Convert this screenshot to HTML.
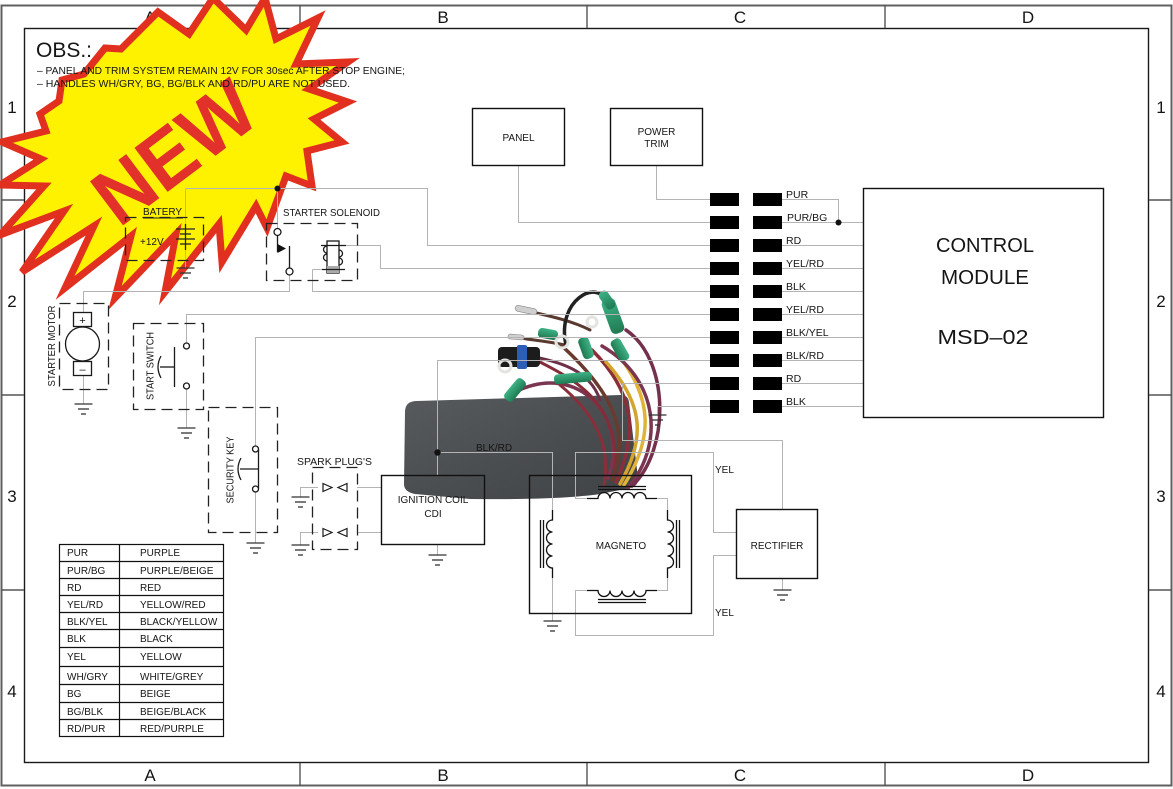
<!DOCTYPE html>
<html>
<head>
<meta charset="utf-8">
<style>
  html,body{margin:0;padding:0;background:#fff;}
  body{width:1173px;height:789px;overflow:hidden;}
  svg{display:block;}
  text{font-family:"Liberation Sans", sans-serif;fill:#151515;}
</style>
</head>
<body>
<svg width="1173" height="789" viewBox="0 0 1173 789" xmlns="http://www.w3.org/2000/svg">
  <defs>
    <g id="gnd" stroke="#333" stroke-width="1.3" fill="none">
      <line x1="-9" y1="0" x2="9" y2="0"/>
      <line x1="-5.5" y1="5" x2="5.5" y2="5"/>
      <line x1="-2.5" y1="10" x2="2.5" y2="10"/>
    </g>
    <linearGradient id="body" x1="0" y1="0" x2="1" y2="1">
      <stop offset="0" stop-color="#585b5e"/>
      <stop offset="0.5" stop-color="#4b4e51"/>
      <stop offset="1" stop-color="#404346"/>
    </linearGradient>
    <linearGradient id="grn" x1="0" y1="0" x2="0" y2="1">
      <stop offset="0" stop-color="#3fb386"/>
      <stop offset="1" stop-color="#1f7a52"/>
    </linearGradient>
  </defs>

  <rect x="0" y="0" width="1173" height="789" fill="#fff"/>

  <!-- Frame -->
  <rect x="1.5" y="5.5" width="1170" height="780" fill="none" stroke="#606060" stroke-width="2"/>
  <rect x="24.5" y="28.5" width="1124" height="734" fill="none" stroke="#1a1a1a" stroke-width="1.4"/>
  <g stroke="#555" stroke-width="1.4">
    <line x1="300" y1="5" x2="300" y2="28"/>
    <line x1="587" y1="5" x2="587" y2="28"/>
    <line x1="885" y1="5" x2="885" y2="28"/>
    <line x1="300" y1="763" x2="300" y2="786"/>
    <line x1="587" y1="763" x2="587" y2="786"/>
    <line x1="885" y1="763" x2="885" y2="786"/>
    <line x1="1" y1="200" x2="24" y2="200"/>
    <line x1="1" y1="395" x2="24" y2="395"/>
    <line x1="1" y1="590" x2="24" y2="590"/>
    <line x1="1149" y1="200" x2="1172" y2="200"/>
    <line x1="1149" y1="395" x2="1172" y2="395"/>
    <line x1="1149" y1="590" x2="1172" y2="590"/>
  </g>
  <g font-size="17" text-anchor="middle" fill="#222">
    <text x="150" y="23">A</text>
    <text x="443" y="23">B</text>
    <text x="740" y="23">C</text>
    <text x="1028" y="23">D</text>
    <text x="150" y="781">A</text>
    <text x="443" y="781">B</text>
    <text x="740" y="781">C</text>
    <text x="1028" y="781">D</text>
    <text x="1161" y="113">1</text>
    <text x="1161" y="307">2</text>
    <text x="1161" y="502">3</text>
    <text x="1161" y="697">4</text>
  </g>

  <!-- Starburst NEW -->
  <polygon fill="#fff200" stroke="#e1301f" stroke-width="7" stroke-linejoin="miter" stroke-miterlimit="5"
    points="213,-2 246,30 265,-2 276,39 318,18 296,64 348,62 309,89 348,102 314,119 342,142 307,151 312,186 286,176 267,228 256,206 222,262 219,224 165,292 176,234 115,298 131,236 65,288 94,226 22,272 64,211 0,235 44,186 0,185 41,159 2,142 46,131 40,114 59,101 62,80 84,74 105,48 121,49 158,12 189,34"/>
  <text x="174" y="180" font-size="80" font-weight="bold" text-anchor="middle" textLength="180" lengthAdjust="spacingAndGlyphs" style="fill:#e2302a" transform="rotate(-37 174 152)">NEW</text>

  <g font-size="17" text-anchor="middle" fill="#222">
    <text x="12" y="113">1</text>
    <text x="12" y="307">2</text>
    <text x="12" y="502">3</text>
    <text x="12" y="697">4</text>
  </g>

  <!-- OBS notes -->
  <text x="36" y="57" font-size="21" fill="#222">OBS.:</text>
  <text x="37" y="74" font-size="10" textLength="368" lengthAdjust="spacingAndGlyphs">– PANEL AND TRIM SYSTEM REMAIN 12V FOR 30sec AFTER STOP ENGINE;</text>
  <text x="37" y="87" font-size="10" textLength="313" lengthAdjust="spacingAndGlyphs">– HANDLES WH/GRY, BG, BG/BLK AND RD/PU ARE NOT USED.</text>

  <!-- Photo: module body -->
  <path d="M405,412 Q405,401 417,401 L621,395 Q628,395 629,402 L638,478 Q639,486 630,488 L600,494 Q560,500 470,499 L415,494 Q404,492 404,484 Z" fill="url(#body)"/>
  <!-- wires -->
  <g fill="none" stroke-linecap="round">
    <path d="M608,478 C630,420 580,360 515,392" stroke="#7a3550" stroke-width="3.5"/>
    <path d="M615,470 C620,400 570,378 540,362" stroke="#842c38" stroke-width="3"/>
    <path d="M600,400 C590,370 560,362 530,356" stroke="#6e3047" stroke-width="3"/>
    <path d="M590,330 C570,320 545,315 528,311" stroke="#5a3a30" stroke-width="3"/>
    <path d="M565,345 C540,340 530,340 522,338" stroke="#5a3a30" stroke-width="3"/>
    <path d="M566,345 C556,300 598,278 606,302" stroke="#222" stroke-width="3.5"/>
    <path d="M612,480 C632,430 610,390 562,346" stroke="#6b3a2e" stroke-width="3.5"/>
    <path d="M616,482 C640,430 632,390 592,350" stroke="#8a2f3a" stroke-width="3.5"/>
    <path d="M620,484 C645,440 645,405 606,362" stroke="#d4a52e" stroke-width="3.5"/>
    <path d="M624,485 C652,440 655,400 616,352" stroke="#e0b43a" stroke-width="3.5"/>
    <path d="M628,488 C664,445 660,380 602,346" stroke="#7b3550" stroke-width="3.5"/>
    <path d="M632,486 C670,450 670,360 626,330" stroke="#74304c" stroke-width="3.5"/>
    <path d="M604,485 C612,440 590,410 560,385" stroke="#8a2f3a" stroke-width="3"/>
  </g>
  <!-- terminals -->
  <g>
    <rect x="-7" y="-18" width="14" height="36" rx="5" fill="url(#grn)" transform="translate(613,316) rotate(-20)"/>
    <rect x="-5" y="-10" width="10" height="20" rx="4" fill="url(#grn)" transform="translate(607,300) rotate(-35)"/>
    <rect x="-10" y="-5" width="20" height="10" rx="4" fill="url(#grn)" transform="translate(548,334) rotate(10)"/>
    <rect x="-19" y="-5" width="38" height="10" rx="4" fill="url(#grn)" transform="translate(573,378) rotate(-5)"/>
    <rect x="-13" y="-5.5" width="26" height="11" rx="4" fill="url(#grn)" transform="translate(515,390) rotate(-50)"/>
    <rect x="-11" y="-5.5" width="22" height="11" rx="4" fill="url(#grn)" transform="translate(586,348) rotate(70)"/>
    <rect x="-12" y="-5.5" width="24" height="11" rx="4" fill="url(#grn)" transform="translate(620,350) rotate(60)"/>
    <rect x="-11" y="-3" width="22" height="6" rx="3" fill="#cfcfcf" stroke="#888" stroke-width="0.6" transform="translate(526,310) rotate(12)"/>
    <rect x="-8" y="-2.5" width="16" height="5" rx="2.5" fill="#cfcfcf" stroke="#888" stroke-width="0.6" transform="translate(516,337) rotate(5)"/>
    <rect x="498" y="347" width="42" height="20" rx="4" fill="#1c1c1c"/>
    <rect x="517" y="345" width="10" height="24" rx="2" fill="#2a5fb5"/>
    <circle cx="505" cy="366" r="6" fill="none" stroke="#e4e4e0" stroke-width="3"/>
    <circle cx="562" cy="342" r="6" fill="none" stroke="#e4e4e0" stroke-width="3"/>
    <circle cx="592" cy="322" r="5" fill="none" stroke="#e4e4e0" stroke-width="3"/>
  </g>

  <!-- Gray wires -->
  <g stroke="#b4b4b4" stroke-width="1" fill="none">
    <polyline points="185.5,188.5 427.5,188.5 427.5,245.5 710,245.5"/>
    <line x1="185.5" y1="188.5" x2="185.5" y2="268"/>
    <line x1="277.5" y1="188.5" x2="277.5" y2="229"/>
    <polyline points="518.5,165 518.5,222.5 710,222.5"/>
    <polyline points="656.5,165 656.5,199.5 710,199.5"/>
    <polyline points="339,245.5 380.5,245.5 380.5,268.5 710,268.5"/>
    <polyline points="312.5,269.5 312.5,291.5 710,291.5"/>
    <polyline points="312.5,269.5 327,269.5"/>
    <polyline points="289.5,275 289.5,291.5 83.5,291.5 83.5,312"/>
    <line x1="83.5" y1="375" x2="83.5" y2="404"/>
    <polyline points="186.5,343 186.5,314.5 710,314.5"/>
    <line x1="186.5" y1="389" x2="186.5" y2="428"/>
    <polyline points="255.5,446 255.5,337.5 710,337.5"/>
    <line x1="255.5" y1="492" x2="255.5" y2="543"/>
    <polyline points="437.5,475 437.5,360.5 710,360.5"/>
    <polyline points="437.5,452.5 552.5,452.5 552.5,510"/>
    <line x1="552.5" y1="577" x2="552.5" y2="621"/>
    <polyline points="622.5,383.5 710,383.5"/>
    <polyline points="622.5,383.5 622.5,440.5 782.5,440.5 782.5,509"/>
    <polyline points="657.5,406.5 710,406.5"/>
    <line x1="657.5" y1="406.5" x2="657.5" y2="415"/>
    <polyline points="587,498.5 575.5,498.5 575.5,452.5 713.5,452.5 713.5,532.5 736,532.5"/>
    <polyline points="587,590.5 575.5,590.5 575.5,635.5 713.5,635.5 713.5,555.5 736,555.5"/>
    <polyline points="657,498.5 667.5,498.5 667.5,510"/>
    <polyline points="667.5,578 667.5,590.5 657,590.5"/>
    <line x1="782.5" y1="578" x2="782.5" y2="590"/>
    <line x1="437.5" y1="544" x2="437.5" y2="555"/>
    <line x1="357" y1="487.5" x2="381" y2="487.5"/>
    <line x1="357" y1="532.5" x2="381" y2="532.5"/>
    <polyline points="318,487.5 300.5,487.5 300.5,497"/>
    <polyline points="318,532.5 300.5,532.5 300.5,545"/>
    <polyline points="782,199.5 838.5,199.5 838.5,222.5"/>
    <line x1="782" y1="222.5" x2="863" y2="222.5"/>
    <line x1="782" y1="245.5" x2="863" y2="245.5"/>
    <line x1="782" y1="268.5" x2="863" y2="268.5"/>
    <line x1="782" y1="291.5" x2="863" y2="291.5"/>
    <line x1="782" y1="314.5" x2="863" y2="314.5"/>
    <line x1="782" y1="337.5" x2="863" y2="337.5"/>
    <line x1="782" y1="360.5" x2="863" y2="360.5"/>
    <line x1="782" y1="383.5" x2="863" y2="383.5"/>
    <line x1="782" y1="406.5" x2="863" y2="406.5"/>
  </g>

  <!-- dots -->
  <g fill="#111">
    <circle cx="277.5" cy="188.5" r="3"/>
    <circle cx="838.5" cy="222.5" r="3"/>
    <circle cx="437.5" cy="452.5" r="3.2"/>
  </g>

  <!-- grounds -->
  <use href="#gnd" x="185.5" y="268"/>
  <use href="#gnd" x="83.5" y="404"/>
  <use href="#gnd" x="186.5" y="428"/>
  <use href="#gnd" x="255.5" y="543"/>
  <use href="#gnd" x="300.5" y="497"/>
  <use href="#gnd" x="300.5" y="545"/>
  <use href="#gnd" x="437.5" y="555"/>
  <use href="#gnd" x="552.5" y="621"/>
  <use href="#gnd" x="782.5" y="590"/>
  <use href="#gnd" x="657.5" y="415"/>

  <!-- Dashed boxes -->
  <g fill="none" stroke="#222" stroke-width="1.3" stroke-dasharray="11 6">
    <rect x="125.5" y="217.5" width="78" height="43"/>
    <rect x="266.5" y="223.5" width="91" height="57"/>
    <rect x="59.5" y="303.5" width="49" height="86"/>
    <rect x="133.5" y="323.5" width="70" height="86"/>
    <rect x="208.5" y="407.5" width="69" height="125"/>
    <rect x="312.5" y="467.5" width="45" height="82"/>
  </g>

  <!-- Battery -->
  <text x="143" y="215" font-size="10">BATERY</text>
  <line x1="143" y1="218" x2="183" y2="218" stroke="#222" stroke-width="1"/>
  <text x="140" y="245" font-size="10">+12V</text>
  <g stroke="#222" stroke-width="1.3">
    <line x1="176" y1="229" x2="195" y2="229"/>
    <line x1="180" y1="234" x2="191" y2="234"/>
    <line x1="176" y1="239" x2="195" y2="239"/>
    <line x1="180" y1="244" x2="191" y2="244"/>
    <line x1="185.5" y1="224" x2="185.5" y2="250"/>
  </g>

  <!-- Starter solenoid -->
  <text x="283" y="216" font-size="10" textLength="97" lengthAdjust="spacingAndGlyphs">STARTER SOLENOID</text>
  <g stroke="#1a1a1a" stroke-width="1.3" fill="#fff">
    <circle cx="277.5" cy="232" r="3.5"/>
    <circle cx="289.5" cy="271.5" r="3.5"/>
    <line x1="277.5" y1="235.5" x2="277.5" y2="252"/>
    <line x1="289.5" y1="246" x2="289.5" y2="268"/>
    <rect x="327" y="241" width="12" height="32" fill="#fff"/>
    <rect x="327" y="266" width="12" height="7" fill="#aaa" stroke="none"/>
    <path d="M327,246 a3.5,3.5 0 0 0 0,7 M327,254 a3.5,3.5 0 0 0 0,7 M339,250 a3.5,3.5 0 0 1 0,7 M339,258 a3.5,3.5 0 0 1 0,7" fill="none"/>
    <line x1="321" y1="245.5" x2="346" y2="245.5"/>
    <line x1="322" y1="269.5" x2="345" y2="269.5"/>
  </g>
  <polygon points="277.5,244 286,248.5 277.5,253" fill="#111"/>

  <!-- Starter motor -->
  <g stroke="#1a1a1a" stroke-width="1.3" fill="#fff">
    <rect x="73.5" y="312.5" width="18" height="14"/>
    <rect x="73.5" y="361.5" width="18" height="14"/>
    <circle cx="82.5" cy="344" r="17"/>
  </g>
  <text x="82.5" y="324" font-size="11" text-anchor="middle">+</text>
  <text x="82.5" y="373" font-size="11" text-anchor="middle">–</text>
  <text font-size="10" text-anchor="middle" transform="translate(55,346) rotate(-90)" textLength="81" lengthAdjust="spacingAndGlyphs">STARTER MOTOR</text>

  <!-- Start switch -->
  <g stroke="#1a1a1a" stroke-width="1.3" fill="#fff">
    <circle cx="186.5" cy="346" r="3"/>
    <circle cx="186.5" cy="386" r="3"/>
    <line x1="174.5" y1="347" x2="174.5" y2="387"/>
    <line x1="160" y1="367" x2="174.5" y2="367"/>
    <path d="M161,356 Q155,367 161,378" fill="none"/>
  </g>
  <text font-size="10" text-anchor="middle" transform="translate(153.5,366) rotate(-90)" textLength="68" lengthAdjust="spacingAndGlyphs">START SWITCH</text>

  <!-- Security key -->
  <g stroke="#1a1a1a" stroke-width="1.3" fill="#fff">
    <line x1="258.5" y1="449" x2="258.5" y2="489"/>
    <circle cx="255.5" cy="449" r="3"/>
    <circle cx="255.5" cy="489" r="3"/>
    <line x1="240" y1="469" x2="258.5" y2="469"/>
    <path d="M241,458 Q235,469 241,480" fill="none"/>
  </g>
  <text font-size="10" text-anchor="middle" transform="translate(233.5,470) rotate(-90)" textLength="67" lengthAdjust="spacingAndGlyphs">SECURITY KEY</text>

  <!-- Spark plugs -->
  <text x="297" y="465" font-size="10" textLength="75" lengthAdjust="spacingAndGlyphs">SPARK PLUG'S</text>
  <g stroke="#1a1a1a" stroke-width="1.2" fill="#fff">
    <polygon points="323,483.5 332,487.5 323,491.5"/>
    <polygon points="347,483.5 338,487.5 347,491.5"/>
    <polygon points="323,528.5 332,532.5 323,536.5"/>
    <polygon points="347,528.5 338,532.5 347,536.5"/>
  </g>

  <!-- Solid boxes -->
  <g fill="none" stroke="#111" stroke-width="1.4">
    <rect x="472.5" y="108.5" width="92" height="57"/>
    <rect x="610.5" y="108.5" width="92" height="57"/>
    <rect x="863.5" y="188.5" width="240" height="229"/>
    <rect x="381.5" y="475.5" width="103" height="69"/>
    <rect x="529.5" y="475.5" width="162" height="138"/>
    <rect x="736.5" y="509.5" width="81" height="69"/>
  </g>
  <text x="518.5" y="141" font-size="10" text-anchor="middle">PANEL</text>
  <text x="656.5" y="135" font-size="10" text-anchor="middle">POWER</text>
  <text x="656.5" y="147" font-size="10" text-anchor="middle">TRIM</text>
  <text x="985" y="252" font-size="20" text-anchor="middle" fill="#222" textLength="98" lengthAdjust="spacingAndGlyphs">CONTROL</text>
  <text x="985" y="284" font-size="20" text-anchor="middle" fill="#222" textLength="88" lengthAdjust="spacingAndGlyphs">MODULE</text>
  <text x="983" y="344" font-size="20" text-anchor="middle" fill="#222" textLength="91" lengthAdjust="spacingAndGlyphs">MSD–02</text>
  <text x="433" y="503" font-size="10" text-anchor="middle">IGNITION COIL</text>
  <text x="433" y="517" font-size="10" text-anchor="middle">CDI</text>
  <text x="621" y="549" font-size="10" text-anchor="middle">MAGNETO</text>
  <text x="777" y="549" font-size="10" text-anchor="middle">RECTIFIER</text>
  <text x="476" y="451" font-size="10">BLK/RD</text>
  <text x="715" y="473" font-size="10">YEL</text>
  <text x="715" y="616" font-size="10">YEL</text>

  <!-- Magneto coils -->
  <g stroke="#111" stroke-width="1.3" fill="none">
    <path d="M587,498.5 L598,498.5 a6,6 0 0 1 12,0 a6,6 0 0 1 12,0 a6,6 0 0 1 12,0 a6,6 0 0 1 12,0 L657,498.5"/>
    <line x1="598" y1="486.5" x2="646" y2="486.5"/>
    <line x1="598" y1="489.5" x2="646" y2="489.5"/>
    <path d="M587,590.5 L598,590.5 a6,6 0 0 0 12,0 a6,6 0 0 0 12,0 a6,6 0 0 0 12,0 a6,6 0 0 0 12,0 L657,590.5"/>
    <line x1="598" y1="599.5" x2="646" y2="599.5"/>
    <line x1="598" y1="602.5" x2="646" y2="602.5"/>
    <path d="M552.5,510 L552.5,520 a6,6 0 0 0 0,12 a6,6 0 0 0 0,12 a6,6 0 0 0 0,12 a6,6 0 0 0 0,12 L552.5,578"/>
    <line x1="540.5" y1="520" x2="540.5" y2="568"/>
    <line x1="543.5" y1="520" x2="543.5" y2="568"/>
    <path d="M667.5,510 L667.5,520 a6,6 0 0 1 0,12 a6,6 0 0 1 0,12 a6,6 0 0 1 0,12 a6,6 0 0 1 0,12 L667.5,578"/>
    <line x1="676.5" y1="520" x2="676.5" y2="568"/>
    <line x1="679.5" y1="520" x2="679.5" y2="568"/>
  </g>

  <!-- Connectors -->
  <g fill="#000">
    <rect x="710" y="193" width="29" height="13"/><rect x="753" y="193" width="29" height="13"/>
    <rect x="710" y="216" width="29" height="13"/><rect x="753" y="216" width="29" height="13"/>
    <rect x="710" y="239" width="29" height="13"/><rect x="753" y="239" width="29" height="13"/>
    <rect x="710" y="262" width="29" height="13"/><rect x="753" y="262" width="29" height="13"/>
    <rect x="710" y="285" width="29" height="13"/><rect x="753" y="285" width="29" height="13"/>
    <rect x="710" y="308" width="29" height="13"/><rect x="753" y="308" width="29" height="13"/>
    <rect x="710" y="331" width="29" height="13"/><rect x="753" y="331" width="29" height="13"/>
    <rect x="710" y="354" width="29" height="13"/><rect x="753" y="354" width="29" height="13"/>
    <rect x="710" y="377" width="29" height="13"/><rect x="753" y="377" width="29" height="13"/>
    <rect x="710" y="400" width="29" height="13"/><rect x="753" y="400" width="29" height="13"/>
  </g>
  <g font-size="10.5">
    <text x="786" y="198">PUR</text>
    <text x="787" y="221">PUR/BG</text>
    <text x="786" y="244">RD</text>
    <text x="786" y="267">YEL/RD</text>
    <text x="786" y="290">BLK</text>
    <text x="786" y="313">YEL/RD</text>
    <text x="786" y="336">BLK/YEL</text>
    <text x="786" y="359">BLK/RD</text>
    <text x="786" y="382">RD</text>
    <text x="786" y="405">BLK</text>
  </g>

  <!-- Legend table -->
  <g fill="none" stroke="#111" stroke-width="1.2">
    <rect x="59.5" y="544.5" width="164" height="192"/>
    <line x1="119.5" y1="544.5" x2="119.5" y2="736.5"/>
    <line x1="59.5" y1="561.5" x2="223.5" y2="561.5"/>
    <line x1="59.5" y1="578.5" x2="223.5" y2="578.5"/>
    <line x1="59.5" y1="595.5" x2="223.5" y2="595.5"/>
    <line x1="59.5" y1="612.5" x2="223.5" y2="612.5"/>
    <line x1="59.5" y1="629.5" x2="223.5" y2="629.5"/>
    <line x1="59.5" y1="647.5" x2="223.5" y2="647.5"/>
    <line x1="59.5" y1="666.5" x2="223.5" y2="666.5"/>
    <line x1="59.5" y1="684.5" x2="223.5" y2="684.5"/>
    <line x1="59.5" y1="702.5" x2="223.5" y2="702.5"/>
    <line x1="59.5" y1="719.5" x2="223.5" y2="719.5"/>
  </g>
  <g font-size="10">
    <text x="67" y="556">PUR</text><text x="140" y="556">PURPLE</text>
    <text x="67" y="574">PUR/BG</text><text x="140" y="574">PURPLE/BEIGE</text>
    <text x="67" y="591">RD</text><text x="140" y="591">RED</text>
    <text x="67" y="608">YEL/RD</text><text x="140" y="608">YELLOW/RED</text>
    <text x="67" y="625">BLK/YEL</text><text x="140" y="625">BLACK/YELLOW</text>
    <text x="67" y="642">BLK</text><text x="140" y="642">BLACK</text>
    <text x="67" y="660">YEL</text><text x="140" y="660">YELLOW</text>
    <text x="67" y="680">WH/GRY</text><text x="140" y="680">WHITE/GREY</text>
    <text x="67" y="697">BG</text><text x="140" y="697">BEIGE</text>
    <text x="67" y="715">BG/BLK</text><text x="140" y="715">BEIGE/BLACK</text>
    <text x="67" y="732">RD/PUR</text><text x="140" y="732">RED/PURPLE</text>
  </g>
</svg>
</body>
</html>
